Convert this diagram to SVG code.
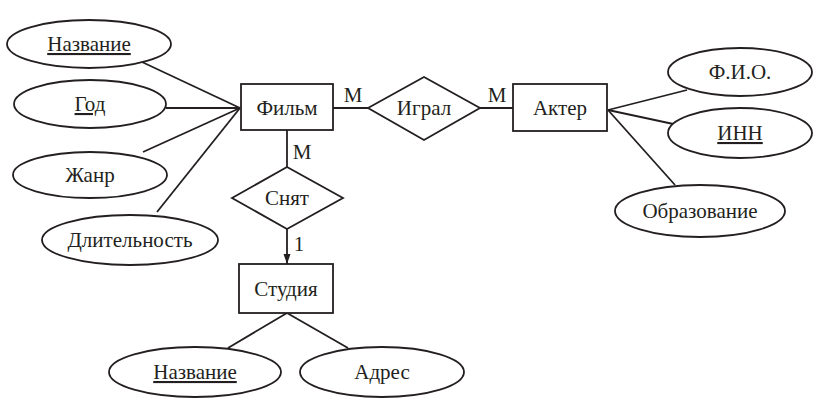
<svg xmlns="http://www.w3.org/2000/svg" width="817" height="400" viewBox="0 0 817 400">
<style>
.s{fill:#fff;stroke:#231f20;stroke-width:1.8}
.l{stroke:#231f20;stroke-width:1.8;fill:none}
text{font-family:"Liberation Serif","DejaVu Serif",serif;font-size:21px;fill:#231f20;text-anchor:middle}
.u{text-decoration:underline}
</style>
<defs>
<marker id="ah" viewBox="0 0 10 10" refX="10" refY="5" markerWidth="10" markerHeight="14" markerUnits="userSpaceOnUse" orient="auto">
<path d="M0,1.5 L10,5 L0,8.5 Z" fill="#231f20"/>
</marker>
</defs>
<g id="connectors">
<line class="l" x1="142" y1="62" x2="240" y2="108"/>
<line class="l" x1="166" y1="108" x2="240" y2="108"/>
<line class="l" x1="143" y1="152" x2="240" y2="108"/>
<line class="l" x1="157" y1="212" x2="240" y2="108"/>
<line class="l" x1="333" y1="108" x2="368" y2="108"/>
<line class="l" x1="480" y1="108" x2="513" y2="108"/>
<line class="l" x1="287" y1="130" x2="287" y2="167"/>
<line class="l" x1="287" y1="229" x2="287" y2="264" marker-end="url(#ah)"/>
<line class="l" x1="287" y1="313" x2="228" y2="348"/>
<line class="l" x1="287" y1="313" x2="348" y2="348"/>
<line class="l" x1="608" y1="110" x2="687" y2="90"/>
<line class="l" x1="608" y1="110" x2="678" y2="125"/>
<line class="l" x1="608" y1="110" x2="675" y2="185"/>
<text x="353" y="102">М</text>
<text x="497" y="102">М</text>
<text x="302" y="159">М</text>
<text x="299" y="251">1</text>
</g>
<g id="film"><rect class="s" x="241" y="84" width="92" height="46"/><text x="287" y="115">Фильм</text></g>
<g id="actor"><rect class="s" x="513" y="84" width="94" height="47"/><text x="560" y="115">Актер</text></g>
<g id="studio"><rect class="s" x="239" y="264" width="94" height="49"/><text x="286" y="296">Студия</text></g>
<g id="igral"><polygon class="s" points="368,108 424,77 480,108 424,140"/><text x="424" y="115">Играл</text></g>
<g id="snyat"><polygon class="s" points="232,198 287,167 343,198 287,229"/><text x="287" y="205">Снят</text></g>
<g id="a-nazv"><ellipse class="s" cx="89" cy="44" rx="82" ry="24"/><text class="u" x="89" y="51">Название</text></g>
<g id="a-god"><ellipse class="s" cx="90" cy="104" rx="76" ry="24"/><text class="u" x="90" y="111">Год</text></g>
<g id="a-zhanr"><ellipse class="s" cx="90" cy="175" rx="77" ry="23"/><text x="90" y="182">Жанр</text></g>
<g id="a-dlit"><ellipse class="s" cx="130" cy="240" rx="88" ry="25"/><text x="130" y="247">Длительность</text></g>
<g id="a-fio"><ellipse class="s" cx="740" cy="72" rx="72" ry="24"/><text x="740" y="79">Ф.И.О.</text></g>
<g id="a-inn"><ellipse class="s" cx="740" cy="133" rx="72" ry="25"/><text class="u" x="740" y="140">ИНН</text></g>
<g id="a-obr"><ellipse class="s" cx="700" cy="211" rx="85" ry="26"/><text x="700" y="218">Образование</text></g>
<g id="a-snazv"><ellipse class="s" cx="195" cy="372" rx="86" ry="25"/><text class="u" x="195" y="379">Название</text></g>
<g id="a-adres"><ellipse class="s" cx="382" cy="372" rx="82" ry="25"/><text x="382" y="379">Адрес</text></g>
</svg>
